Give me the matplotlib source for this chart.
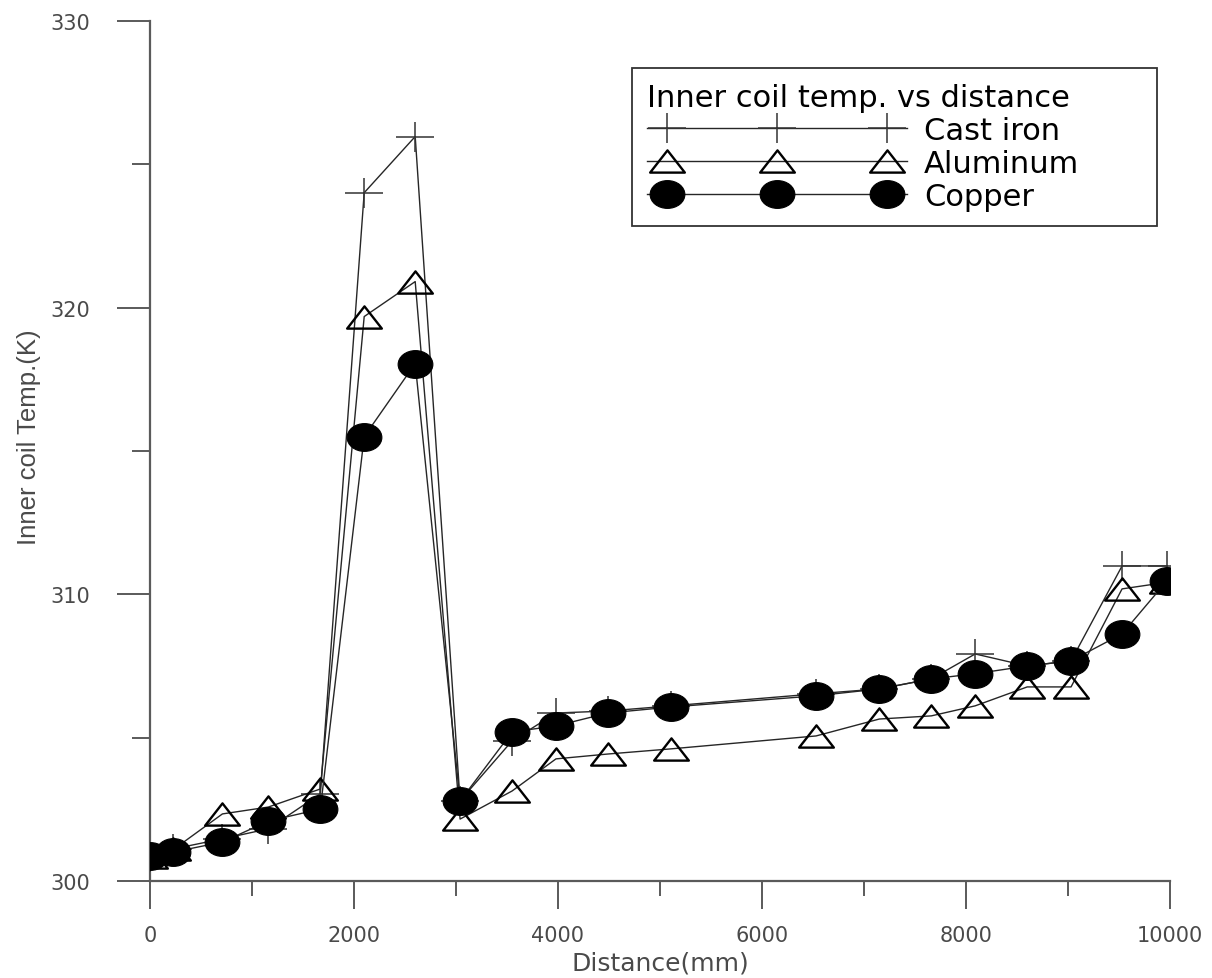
import matplotlib
matplotlib.use("Agg")
import matplotlib.pyplot as plt
import numpy as np
from matplotlib.path import Path
from matplotlib.legend_handler import HandlerLine2DCompound
from matplotlib.ticker import MultipleLocator

# Inner coil temperature along the pipe for three coil materials
distance = [0, 230, 710, 1160, 1670, 2100, 2600, 3040, 3550, 3980,
            4490, 5110, 6530, 7150, 7660, 8090, 8600, 9030, 9530, 9970]
cast_iron = [300.85, 301.12, 301.47, 301.82, 303.04, 324.01, 325.97, 302.80, 304.89, 305.86,
             305.93, 306.11, 306.53, 306.70, 307.05, 307.92, 307.50, 307.68, 310.99, 310.99]
aluminum = [300.85, 301.10, 302.34, 302.58, 303.21, 319.69, 320.91, 302.16, 303.14, 304.26,
            304.43, 304.61, 305.06, 305.65, 305.76, 306.11, 306.77, 306.77, 310.19, 310.42]
copper = [300.87, 301.01, 301.36, 302.09, 302.51, 315.50, 318.05, 302.79, 305.20, 305.41,
          305.86, 306.07, 306.46, 306.70, 307.05, 307.23, 307.50, 307.68, 308.62, 310.47]
series_labels = ["Cast iron", "Aluminum", "Copper"]
legend_title = "Inner coil temp. vs distance"
x_ticks = [0, 2000, 4000, 6000, 8000, 10000]
y_ticks = [300, 310, 320, 330]

# marker shapes: wide plus sign, flattened triangle, flattened disc
plus_path = Path([(-0.5, 0), (0.5, 0), (0, -0.41), (0, 0.41)],
                 [Path.MOVETO, Path.LINETO, Path.MOVETO, Path.LINETO])
tri_path = Path([(-0.5, -0.32), (0.5, -0.32), (0, 0.32), (-0.5, -0.32)],
                [Path.MOVETO, Path.LINETO, Path.LINETO, Path.CLOSEPOLY])
circ = Path.unit_circle()
disc_path = Path(circ.vertices * np.array([0.5, 0.4]), circ.codes)

fig = plt.figure(figsize=(12.12, 9.79), dpi=100)
ax = fig.add_axes([150 / 1212, 97 / 979, 1020 / 1212, 860 / 979])

line_col = "#262626"
ax.plot(distance, cast_iron, color=line_col, lw=1.0, marker=plus_path, ms=27,
        mfc="none", mec="#333333", mew=1.1, label=series_labels[0], zorder=3)
ax.plot(distance, aluminum, color=line_col, lw=1.0, marker=tri_path, ms=25,
        mfc="none", mec="black", mew=1.7, label=series_labels[1], zorder=4)
ax.plot(distance, copper, color=line_col, lw=1.0, marker=disc_path, ms=25,
        mfc="black", mec="black", mew=0.8, label=series_labels[2], zorder=5)

ax.set_xlim(0, 10000)
ax.set_ylim(300, 330)
for s in ["top", "right"]:
    ax.spines[s].set_visible(False)
for s in ["left", "bottom"]:
    ax.spines[s].set_color("#5a5a5a")
    ax.spines[s].set_linewidth(1.6)

ax.set_xticks(x_ticks)
ax.set_yticks(y_ticks)
ax.xaxis.set_minor_locator(MultipleLocator(1000))
ax.yaxis.set_minor_locator(MultipleLocator(5))
ax.tick_params(axis="both", which="both", direction="out", color="#5a5a5a", width=1.4,
               labelcolor="#4a4a4a")
ax.tick_params(axis="x", which="major", length=20, pad=12)
ax.tick_params(axis="x", which="minor", length=11)
ax.tick_params(axis="y", which="major", length=24, pad=19)
ax.tick_params(axis="y", which="minor", length=13)
for lab in ax.get_xticklabels() + ax.get_yticklabels():
    lab.set_fontfamily("DejaVu Sans")
    lab.set_fontsize(15)

ax.set_xlabel("Distance(mm)", fontsize=18, color="#4a4a4a",
              family="DejaVu Sans", labelpad=4)
ax.set_ylabel("Inner coil Temp.(K)", fontsize=18.5, color="#4a4a4a",
              family=["Liberation Sans", "DejaVu Sans"])
ax.yaxis.set_label_coords((41 - 150) / 1020, (882 - 437) / 860)


class SpanLineHandler(HandlerLine2DCompound):
    """Legend line running across the whole handle, markers inset."""
    def create_artists(self, legend, orig_handle, xdescent, ydescent,
                       width, height, fontsize, trans):
        arts = super().create_artists(legend, orig_handle, xdescent, ydescent,
                                      width, height, fontsize, trans)
        line = arts[0]
        n = len(line.get_ydata())
        line.set_xdata(np.linspace(-xdescent, -xdescent + width, n))
        return arts


handles, labels = ax.get_legend_handles_labels()
leg_fs = 22
leg_px = leg_fs * 100 / 72
leg_font = dict(family=["DejaVu Sans"], size=leg_fs)
leg_top = (882 - 69) / 860
leg = ax.legend(handles, labels, title=legend_title, loc="upper left", mode="expand",
                bbox_to_anchor=((632 - 150) / 1020, leg_top - 0.3, 525 / 1020, 0.3),
                borderaxespad=0, numpoints=3, handlelength=260 / leg_px,
                handletextpad=17 / leg_px, fancybox=False, framealpha=1, edgecolor="#333333",
                prop=leg_font, title_fontproperties=leg_font, alignment="left",
                labelspacing=0.13, borderpad=15 / leg_px,
                handler_map={h: SpanLineHandler(marker_pad=20 / leg_px) for h in handles})
leg.get_frame().set_linewidth(1.3)

fig.savefig("out.png", dpi=100, facecolor="white")
